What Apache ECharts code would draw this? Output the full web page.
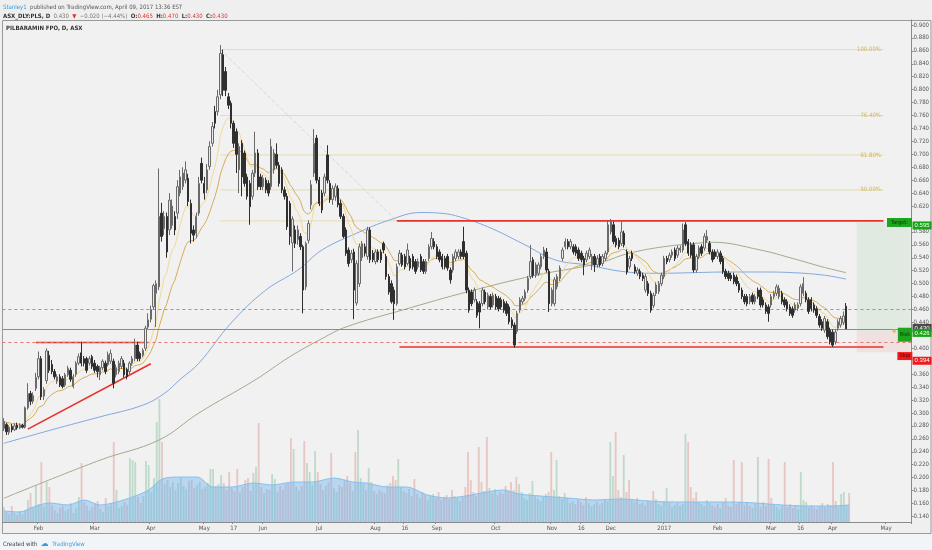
<!DOCTYPE html>
<html>
<head>
<meta charset="utf-8">
<script src="https://cdn.jsdelivr.net/npm/echarts@6.0.0/dist/echarts.min.js"></script>
<style>
  html, body { margin: 0; padding: 0; background: #efefef; }
  #chart { width: 932px; height: 550px; }
</style>
</head>
<body>
<div id="chart"></div>
<script>
// daily bars, [open, high, low, close]
var ohlc = [
  [0.276,0.292,0.272,0.287],[0.282,0.285,0.266,0.271],[0.270,0.281,0.266,0.278],[0.279,0.283,0.270,0.274],
  [0.274,0.284,0.272,0.280],[0.281,0.285,0.274,0.277],[0.277,0.284,0.275,0.281],[0.281,0.283,0.276,0.278],
  [0.278,0.310,0.276,0.308],[0.308,0.346,0.305,0.330],[0.330,0.334,0.312,0.318],[0.318,0.332,0.314,0.327],
  [0.338,0.362,0.334,0.355],[0.356,0.395,0.352,0.384],[0.384,0.388,0.320,0.325],[0.326,0.340,0.320,0.336],
  [0.350,0.400,0.345,0.396],[0.389,0.396,0.362,0.366],[0.375,0.382,0.360,0.364],[0.364,0.368,0.352,0.356],
  [0.349,0.360,0.345,0.356],[0.356,0.360,0.340,0.343],[0.353,0.357,0.338,0.341],[0.343,0.362,0.340,0.359],
  [0.359,0.373,0.356,0.369],[0.366,0.370,0.348,0.352],[0.341,0.360,0.338,0.356],[0.360,0.380,0.356,0.377],
  [0.377,0.392,0.374,0.387],[0.393,0.410,0.372,0.377],[0.384,0.388,0.372,0.377],[0.384,0.387,0.362,0.366],
  [0.377,0.388,0.373,0.384],[0.387,0.390,0.368,0.372],[0.377,0.382,0.362,0.366],[0.372,0.375,0.355,0.364],
  [0.359,0.373,0.351,0.370],[0.370,0.383,0.366,0.380],[0.377,0.381,0.360,0.364],[0.375,0.395,0.372,0.390],
  [0.380,0.398,0.376,0.392],[0.380,0.384,0.338,0.346],[0.359,0.375,0.355,0.370],[0.364,0.381,0.360,0.377],
  [0.372,0.388,0.368,0.384],[0.377,0.382,0.355,0.359],[0.367,0.370,0.352,0.356],[0.364,0.380,0.360,0.377],
  [0.377,0.388,0.373,0.384],[0.384,0.415,0.380,0.405],[0.405,0.410,0.380,0.384],[0.392,0.395,0.380,0.384],
  [0.389,0.400,0.386,0.397],[0.400,0.435,0.396,0.431],[0.433,0.454,0.430,0.444],[0.445,0.466,0.440,0.460],
  [0.464,0.500,0.460,0.497],[0.485,0.505,0.433,0.500],[0.495,0.678,0.490,0.604],[0.609,0.625,0.565,0.573],
  [0.585,0.612,0.575,0.604],[0.604,0.610,0.540,0.549],[0.583,0.640,0.575,0.629],[0.590,0.630,0.585,0.620],
  [0.604,0.612,0.575,0.583],[0.609,0.660,0.600,0.650],[0.640,0.676,0.635,0.665],[0.650,0.680,0.645,0.671],
  [0.660,0.689,0.655,0.676],[0.663,0.670,0.620,0.627],[0.624,0.630,0.562,0.578],[0.583,0.590,0.565,0.575],
  [0.578,0.610,0.570,0.604],[0.609,0.665,0.605,0.655],[0.686,0.695,0.655,0.660],[0.655,0.665,0.630,0.640],
  [0.645,0.685,0.640,0.676],[0.681,0.720,0.676,0.712],[0.717,0.750,0.712,0.743],[0.766,0.775,0.740,0.748],
  [0.766,0.800,0.760,0.789],[0.792,0.869,0.785,0.856],[0.854,0.862,0.790,0.799],[0.828,0.835,0.790,0.799],
  [0.789,0.795,0.770,0.776],[0.779,0.783,0.740,0.748],[0.748,0.752,0.710,0.717],[0.735,0.740,0.671,0.700],
  [0.676,0.717,0.640,0.712],[0.717,0.722,0.635,0.665],[0.702,0.706,0.650,0.655],[0.665,0.670,0.630,0.635],
  [0.655,0.660,0.591,0.619],[0.635,0.676,0.630,0.671],[0.671,0.735,0.665,0.702],[0.702,0.708,0.645,0.650],
  [0.665,0.670,0.645,0.650],[0.650,0.668,0.645,0.663],[0.660,0.664,0.640,0.645],[0.655,0.660,0.635,0.640],
  [0.650,0.724,0.645,0.712],[0.676,0.708,0.670,0.702],[0.700,0.717,0.678,0.683],[0.683,0.688,0.650,0.655],
  [0.676,0.680,0.640,0.645],[0.645,0.650,0.630,0.635],[0.635,0.640,0.583,0.588],[0.624,0.628,0.560,0.573],
  [0.563,0.604,0.519,0.600],[0.583,0.590,0.555,0.562],[0.568,0.590,0.560,0.583],[0.573,0.578,0.552,0.557],
  [0.557,0.560,0.454,0.490],[0.495,0.565,0.490,0.562],[0.567,0.598,0.562,0.593],[0.622,0.660,0.615,0.653],
  [0.671,0.739,0.665,0.717],[0.725,0.730,0.655,0.660],[0.660,0.665,0.620,0.624],[0.640,0.645,0.609,0.614],
  [0.640,0.670,0.635,0.665],[0.699,0.714,0.655,0.660],[0.655,0.660,0.625,0.630],[0.630,0.652,0.622,0.647],
  [0.635,0.655,0.628,0.650],[0.647,0.652,0.618,0.622],[0.624,0.630,0.600,0.604],[0.604,0.608,0.570,0.573],
  [0.583,0.587,0.543,0.547],[0.552,0.556,0.526,0.531],[0.537,0.552,0.532,0.547],[0.549,0.554,0.445,0.490],
  [0.470,0.536,0.466,0.531],[0.500,0.562,0.495,0.557],[0.540,0.566,0.535,0.562],[0.557,0.562,0.542,0.547],
  [0.542,0.588,0.537,0.583],[0.583,0.587,0.532,0.537],[0.547,0.552,0.533,0.537],[0.534,0.553,0.530,0.549],
  [0.549,0.553,0.533,0.537],[0.549,0.553,0.532,0.537],[0.562,0.565,0.547,0.552],[0.542,0.546,0.506,0.511],
  [0.511,0.515,0.483,0.487],[0.500,0.505,0.469,0.472],[0.490,0.495,0.444,0.469],[0.469,0.531,0.466,0.526],
  [0.531,0.552,0.528,0.547],[0.544,0.548,0.526,0.529],[0.542,0.546,0.522,0.526],[0.531,0.562,0.528,0.552],
  [0.539,0.543,0.520,0.524],[0.542,0.546,0.522,0.526],[0.534,0.538,0.515,0.519],[0.526,0.539,0.522,0.534],
  [0.542,0.546,0.518,0.521],[0.534,0.538,0.515,0.519],[0.519,0.538,0.515,0.534],[0.539,0.561,0.535,0.557],
  [0.557,0.580,0.553,0.570],[0.565,0.570,0.553,0.557],[0.557,0.561,0.538,0.542],[0.549,0.553,0.533,0.537],
  [0.542,0.546,0.522,0.526],[0.539,0.543,0.522,0.526],[0.542,0.546,0.520,0.524],[0.521,0.525,0.500,0.506],
  [0.521,0.546,0.517,0.542],[0.539,0.553,0.535,0.549],[0.542,0.553,0.538,0.549],[0.549,0.553,0.538,0.542],
  [0.565,0.588,0.538,0.542],[0.547,0.551,0.485,0.490],[0.490,0.494,0.455,0.459],[0.487,0.491,0.465,0.469],
  [0.475,0.494,0.471,0.490],[0.472,0.476,0.447,0.451],[0.469,0.473,0.431,0.456],[0.469,0.494,0.465,0.490],
  [0.487,0.491,0.468,0.472],[0.464,0.486,0.460,0.482],[0.480,0.484,0.460,0.464],[0.467,0.486,0.463,0.482],
  [0.480,0.484,0.460,0.464],[0.477,0.481,0.457,0.461],[0.475,0.479,0.460,0.464],[0.472,0.476,0.455,0.459],
  [0.469,0.473,0.450,0.454],[0.464,0.468,0.437,0.441],[0.444,0.448,0.431,0.435],[0.436,0.440,0.401,0.405],
  [0.426,0.458,0.422,0.454],[0.459,0.479,0.455,0.475],[0.472,0.481,0.468,0.477],[0.477,0.491,0.473,0.487],
  [0.490,0.512,0.486,0.508],[0.511,0.560,0.507,0.534],[0.537,0.541,0.509,0.513],[0.513,0.533,0.509,0.529],
  [0.516,0.533,0.512,0.529],[0.526,0.546,0.522,0.542],[0.542,0.557,0.538,0.552],[0.549,0.555,0.517,0.521],
  [0.519,0.523,0.456,0.469],[0.469,0.494,0.465,0.490],[0.469,0.510,0.465,0.506],[0.495,0.515,0.491,0.511],
  [0.508,0.528,0.504,0.524],[0.539,0.556,0.535,0.552],[0.557,0.570,0.553,0.565],[0.565,0.569,0.553,0.557],
  [0.557,0.569,0.553,0.565],[0.557,0.561,0.545,0.549],[0.557,0.561,0.543,0.547],[0.552,0.556,0.535,0.539],
  [0.547,0.551,0.533,0.537],[0.539,0.543,0.513,0.529],[0.537,0.551,0.533,0.547],[0.542,0.556,0.538,0.552],
  [0.529,0.546,0.521,0.542],[0.542,0.546,0.518,0.529],[0.529,0.544,0.525,0.539],[0.542,0.546,0.526,0.529],
  [0.531,0.546,0.527,0.542],[0.539,0.551,0.535,0.547],[0.549,0.598,0.545,0.591],[0.580,0.600,0.576,0.596],
  [0.591,0.596,0.561,0.565],[0.570,0.574,0.556,0.560],[0.567,0.571,0.553,0.557],[0.562,0.596,0.558,0.580],
  [0.578,0.582,0.556,0.560],[0.549,0.553,0.514,0.518],[0.526,0.543,0.522,0.539],[0.547,0.551,0.535,0.539],
  [0.526,0.530,0.515,0.519],[0.516,0.525,0.512,0.521],[0.519,0.523,0.507,0.511],[0.513,0.517,0.504,0.508],
  [0.490,0.515,0.486,0.511],[0.500,0.504,0.481,0.485],[0.485,0.489,0.455,0.459],[0.466,0.486,0.462,0.482],
  [0.485,0.502,0.481,0.498],[0.488,0.504,0.484,0.500],[0.500,0.517,0.496,0.513],[0.511,0.543,0.507,0.539],
  [0.539,0.543,0.530,0.534],[0.537,0.548,0.533,0.544],[0.544,0.553,0.540,0.549],[0.552,0.556,0.535,0.539],
  [0.544,0.559,0.540,0.555],[0.552,0.559,0.548,0.555],[0.552,0.593,0.548,0.583],[0.591,0.595,0.558,0.562],
  [0.565,0.569,0.543,0.547],[0.560,0.564,0.540,0.544],[0.560,0.564,0.517,0.521],[0.521,0.546,0.517,0.542],
  [0.542,0.559,0.538,0.555],[0.557,0.561,0.543,0.547],[0.555,0.578,0.551,0.573],[0.567,0.583,0.563,0.573],
  [0.562,0.566,0.545,0.549],[0.549,0.553,0.533,0.537],[0.549,0.553,0.538,0.542],[0.542,0.553,0.538,0.549],
  [0.547,0.551,0.530,0.534],[0.539,0.543,0.515,0.519],[0.519,0.523,0.507,0.511],[0.516,0.520,0.504,0.508],
  [0.513,0.517,0.504,0.508],[0.513,0.517,0.499,0.503],[0.510,0.514,0.496,0.500],[0.500,0.504,0.486,0.490],
  [0.490,0.494,0.476,0.480],[0.480,0.484,0.468,0.472],[0.480,0.484,0.465,0.469],[0.472,0.484,0.468,0.480],
  [0.482,0.486,0.468,0.472],[0.472,0.484,0.468,0.480],[0.490,0.494,0.476,0.480],[0.490,0.494,0.463,0.467],
  [0.475,0.479,0.463,0.467],[0.467,0.471,0.453,0.457],[0.464,0.468,0.441,0.454],[0.467,0.484,0.463,0.480],
  [0.480,0.489,0.476,0.485],[0.485,0.499,0.481,0.495],[0.480,0.498,0.476,0.493],[0.485,0.489,0.468,0.472],
  [0.475,0.479,0.463,0.467],[0.472,0.476,0.457,0.461],[0.464,0.468,0.450,0.454],[0.461,0.465,0.447,0.451],
  [0.459,0.471,0.455,0.467],[0.462,0.471,0.458,0.467],[0.469,0.499,0.465,0.495],[0.485,0.510,0.481,0.500],
  [0.485,0.489,0.471,0.475],[0.475,0.479,0.453,0.457],[0.475,0.479,0.457,0.461],[0.467,0.471,0.455,0.459],
  [0.461,0.465,0.447,0.451],[0.449,0.453,0.432,0.436],[0.441,0.445,0.427,0.431],[0.428,0.450,0.424,0.446],
  [0.441,0.445,0.414,0.418],[0.428,0.432,0.406,0.410],[0.425,0.429,0.402,0.405],[0.410,0.429,0.406,0.425],
  [0.431,0.445,0.427,0.441],[0.436,0.450,0.432,0.446],[0.440,0.457,0.436,0.450],[0.465,0.470,0.430,0.430]
];

// volume per bar, millions
var volumes = [
  1.5,1.0,0.8,1.6,0.9,0.7,1.1,0.8,1.2,2.2, 2.9,1.4,3.7,1.8,6.0,1.5,4.0,3.5,1.7,1.2,
  0.9,1.4,1.6,1.1,1.3,1.9,0.9,1.4,2.5,5.9, 2.0,1.6,1.2,1.5,1.8,2.1,1.3,1.0,2.4,1.6,
  1.8,8.0,3.2,1.4,1.6,2.0,1.7,6.4,6.2,6.0, 2.5,1.9,2.6,6.1,5.7,3.0,4.4,10.0,12.3,8.0,
  3.8,4.2,3.5,4.0,3.2,3.9,4.5,3.6,3.3,4.1, 4.2,3.4,3.7,4.0,3.3,3.5,3.9,5.3,5.3,3.6,
  3.8,4.7,3.9,3.2,5.0,3.4,3.1,5.3,3.0,3.5, 4.2,4.4,3.1,4.9,5.5,9.9,3.5,2.9,3.3,3.2,
  4.8,4.3,3.0,3.6,3.2,3.8,3.9,8.4,7.3,3.5, 3.1,3.6,8.1,5.9,5.0,3.7,7.1,5.0,3.8,3.2,
  3.6,4.0,6.9,3.4,3.0,3.7,3.5,4.2,4.6,3.9, 3.1,7.0,9.2,4.4,3.8,3.2,5.4,4.0,3.1,2.8,
  3.2,3.0,2.9,3.7,3.9,4.6,4.2,6.3,3.5,3.1, 2.9,3.3,2.6,4.3,2.8,2.4,3.0,2.7,2.2,2.6,
  2.8,2.4,3.0,2.2,2.5,2.7,2.3,3.2,2.6,2.4, 2.1,2.5,3.5,7.0,4.2,3.0,2.6,7.5,4.0,3.1,
  8.5,3.4,2.9,3.3,2.7,3.0,2.8,3.6,3.1,4.0, 3.2,4.5,3.8,3.0,2.4,2.2,2.9,4.1,2.6,2.3,
  2.1,2.5,2.8,3.0,7.0,3.2,6.2,2.6,2.3,2.9, 2.4,1.9,2.1,1.8,2.2,2.0,1.7,2.5,1.9,1.6,
  1.8,2.0,1.7,1.9,2.3,2.1,8.0,4.6,9.0,3.2, 2.5,6.7,3.0,4.2,2.3,2.0,2.4,1.8,1.9,1.7,
  2.2,2.0,3.1,2.3,1.8,1.6,2.0,3.4,1.9,1.5, 1.7,1.9,1.6,1.8,8.8,8.0,3.5,2.4,3.0,2.0,
  1.8,1.6,2.2,1.9,1.7,1.5,1.8,1.4,1.9,2.4, 1.6,1.5,6.2,1.8,2.0,6.0,1.7,1.9,1.6,1.4,
  1.8,6.5,1.5,2.0,1.6,6.3,2.4,1.7,1.5,1.3, 1.6,6.0,1.5,1.8,1.4,1.7,1.3,5.0,2.2,2.0,
  1.5,1.7,1.4,1.3,1.6,1.9,1.5,1.8,1.7,6.0, 2.1,1.5,2.8,3.0,1.7,2.9
];

// long moving averages, [bar index, price]
var ma100 = [[0,0.253],[18,0.274],[36,0.294],[52,0.312],[60,0.330],[66,0.352],[73,0.377],[85,0.439],
  [98,0.490],[110,0.521],[119,0.552],[132,0.578],[144,0.598],[156,0.610],[163,0.609],[169,0.605],
  [181,0.588],[194,0.562],[206,0.537],[218,0.529],[233,0.518],[245,0.516],[258,0.517],[270,0.518],
  [283,0.518],[295,0.517],[307,0.513],[315,0.507]];
var ma200 = [[0,0.168],[36,0.227],[58,0.258],[73,0.300],[94,0.351],[107,0.387],[119,0.415],[128,0.433],
  [149,0.459],[174,0.488],[199,0.513],[222,0.531],[233,0.546],[245,0.556],[258,0.562],[265,0.564],
  [283,0.552],[295,0.539],[307,0.525],[315,0.517]];
// volume average (blue area), [bar index, millions]
var volAvg = [[0,1.1],[6,1.0],[11,1.5],[17,1.9],[24,1.7],[30,2.2],[36,1.7],[42,2.0],[48,2.5],[54,3.2],
  [59,4.3],[66,4.5],[72,4.5],[78,3.5],[85,3.5],[93,3.9],[100,3.7],[108,4.0],[115,4.0],[123,4.4],
  [130,4.0],[135,3.9],[143,3.5],[150,3.5],[158,2.7],[165,2.4],[172,2.6],[180,3.0],[186,3.2],[192,2.8],
  [200,2.6],[210,2.4],[220,2.2],[230,2.3],[240,2.1],[250,2.0],[260,2.0],[270,2.0],[280,1.9],[290,1.7],
  [300,1.6],[308,1.6],[315,1.7]];

// fibonacci levels drawn from the May high
var fibLevels = [0.862, 0.760, 0.699, 0.645, 0.597];
var fibNames = ['100.00%', '76.40%', '61.80%', '50.00%', ''];

var holidays = ['2016-01-26','2016-03-25','2016-03-28','2016-04-25','2016-06-13',
  '2016-12-26','2016-12-27','2017-01-02','2017-01-26'];
var dateTicks = {
  '2016-02-01':'Feb','2016-03-01':'Mar','2016-04-01':'Apr','2016-05-02':'May','2016-05-17':'17',
  '2016-06-01':'Jun','2016-07-01':'Jul','2016-08-01':'Aug','2016-08-16':'16','2016-09-01':'Sep',
  '2016-10-03':'Oct','2016-11-01':'Nov','2016-11-16':'16','2016-12-01':'Dec','2017-01-03':'2017',
  '2017-02-01':'Feb','2017-03-01':'Mar','2017-03-16':'16','2017-04-03':'Apr','2017-05-01':'May'
};
var priceTicks = [0.14,0.16,0.18,0.20,0.22,0.24,0.26,0.28,0.30,0.32,0.34,0.36,0.40,0.44,0.46,0.48,
  0.50,0.52,0.54,0.56,0.58,0.62,0.64,0.66,0.68,0.70,0.72,0.74,0.76,0.78,0.80,0.82,0.84,0.86,0.88,0.90];

var totalBars = 340;
var dates = [];
(function () {
  var d = new Date(Date.UTC(2016, 0, 12));
  while (dates.length < totalBars) {
    var wd = d.getUTCDay(), s = d.toISOString().slice(0, 10);
    if (wd !== 0 && wd !== 6 && holidays.indexOf(s) < 0) dates.push(s);
    d.setUTCDate(d.getUTCDate() + 1);
  }
})();

function ema(n) {
  var k = 2 / (n + 1), out = [], prev;
  ohlc.forEach(function (b, i) {
    prev = i === 0 ? b[3] : b[3] * k + prev * (1 - k);
    out.push(+prev.toFixed(4));
  });
  return out;
}

var FONT = 'Liberation Sans';
var NARROW = "'Liberation Sans Narrow', 'DejaVu Sans Condensed', 'Liberation Sans'";
var RED = '#e8322b';

function segment(name, a, b, color, width, type, z) {
  return {
    name: name, type: 'line', data: [a, b], symbol: 'none', silent: true, z: z || 4,
    lineStyle: { color: color, width: width, type: type || 'solid' }, animation: false
  };
}

function priceTag(v, bg, fg, dy) {
  return {
    yAxis: v, lineStyle: { color: 'rgba(0,0,0,0)' },
    label: { show: true, position: 'end', distance: 1, formatter: v.toFixed(3), color: fg,
      backgroundColor: bg, padding: [1, 2], fontSize: 6, fontFamily: FONT, offset: [0, dy] }
  };
}

function boxLabel(coord, text, size, bg, fg) {
  return {
    coord: coord, symbol: 'rect', symbolSize: size, itemStyle: { color: bg },
    label: { show: true, position: 'inside', formatter: text, color: fg, fontSize: 5.5, fontFamily: NARROW }
  };
}

var chart = echarts.init(document.getElementById('chart'), null, { renderer: 'canvas' });

var series = [];

series.push({
  name: 'Volume', type: 'bar', xAxisIndex: 1, yAxisIndex: 1, barWidth: '70%', z: 1, silent: true,
  data: volumes.map(function (v, i) {
    var up = ohlc[i][3] >= ohlc[i][0];
    return { value: v, itemStyle: { color: up ? 'rgba(120,185,145,0.40)' : 'rgba(214,126,116,0.36)' } };
  })
});
series.push({
  name: 'Vol MA', type: 'line', xAxisIndex: 1, yAxisIndex: 1, data: volAvg, smooth: 0.3, symbol: 'none',
  z: 2, silent: true, lineStyle: { color: '#86c0ec', width: 1 },
  areaStyle: { color: 'rgba(110,180,238,0.62)' }
});

series.push({
  name: 'MA200', type: 'line', data: ma200, smooth: 0.4, symbol: 'none', z: 3, silent: true,
  lineStyle: { color: '#a3aa8c', width: 1 }
});
series.push({
  name: 'MA100', type: 'line', data: ma100, smooth: 0.4, symbol: 'none', z: 3, silent: true,
  lineStyle: { color: '#82a9de', width: 1 }
});
series.push({
  name: 'EMA20', type: 'line', data: ema(20), symbol: 'none', z: 3, silent: true,
  lineStyle: { color: '#d9ad52', width: 1 }
});
series.push({
  name: 'EMA10', type: 'line', data: ema(10), symbol: 'none', z: 3, silent: true,
  lineStyle: { color: '#f1da93', width: 1 }
});

// fibonacci retracement
fibLevels.forEach(function (lv, k) {
  var s = segment('fib' + k, [81, lv], [329, lv], '#e6dcae', 1, 'solid', 2);
  if (fibNames[k]) {
    s.symbol = 'circle';
    s.symbolSize = 1;
    s.itemStyle = { color: 'rgba(0,0,0,0)' };
    s.label = { show: false };
    s.data[1] = { value: [329, lv], label: { show: true, position: 'left', distance: 2,
      formatter: fibNames[k], color: '#d0b560', fontSize: 6, fontFamily: NARROW } };
  }
  series.push(s);
});
series.push(segment('fibDiag', [81, 0.862], [147, 0.597], '#d8d8d8', 1, 'dashed', 2));

// hand drawn trend lines
series.push(segment('rise', [9, 0.275], [55, 0.376], RED, 1.6));
series.push(segment('flat', [12, 0.409], [54, 0.409], RED, 1.6));
series.push(segment('resist', [147, 0.597], [329, 0.597], RED, 1.6));
series.push(segment('support', [148, 0.402], [329, 0.402], RED, 1.6));

series.push({
  name: 'PLS', type: 'candlestick', z: 5, silent: true, barWidth: '72%',
  data: ohlc.map(function (b) { return [b[0], b[3], b[2], b[1]]; }),
  itemStyle: { color: '#ebebeb', color0: '#2f2f2f', borderColor: '#6a6a6a', borderColor0: '#2f2f2f', borderWidth: 1 },
  markLine: {
    silent: true, symbol: 'none', animation: false,
    data: [
      { yAxis: 0.456, lineStyle: { color: '#e07a72', type: [3, 3], width: 1 }, label: { show: false } },
      { yAxis: 0.409, lineStyle: { color: '#e07a72', type: [3, 3], width: 1 }, label: { show: false } },
      { yAxis: 0.430, lineStyle: { color: '#8c8c8c', type: 'solid', width: 1 },
        label: { show: true, position: 'end', distance: 1, formatter: '0.430', color: '#fff',
          backgroundColor: '#4a4a4a', padding: [1, 2], fontSize: 6, fontFamily: FONT, offset: [0, -1] } },
      priceTag(0.595, '#18a418', '#fff', 0),
      priceTag(0.426, '#18a418', '#fff', 4),
      priceTag(0.394, '#ee1c1c', '#fff', 6)
    ]
  },
  markArea: {
    silent: true,
    data: [
      [{ xAxis: 319, yAxis: 0.426, itemStyle: { color: 'rgba(90,180,90,0.10)' } }, { xAxis: 339, yAxis: 0.595 }],
      [{ xAxis: 319, yAxis: 0.394, itemStyle: { color: 'rgba(240,80,80,0.10)' } }, { xAxis: 339, yAxis: 0.426 }]
    ]
  },
  markPoint: {
    silent: true, animation: false,
    data: [
      boxLabel([335, 0.5946], 'Target:', [25, 9], '#1ea51e', '#063b06'),
      boxLabel([337, 0.421], 'Risk', [14, 14], '#1ea51e', '#063b06'),
      boxLabel([337, 0.388], 'Stop', [15, 8], '#ee1c1c', '#5a0000'),
      { coord: [333, 0.4267], symbol: 'rect', symbolSize: [3, 3], itemStyle: { color: '#e3b46a' }, label: { show: false } }
    ]
  }
});

chart.setOption({
  animation: false,
  backgroundColor: '#efefef',
  textStyle: { fontFamily: FONT },
  grid: [
    { left: 2.4, right: 17.1, top: 20, bottom: 28, show: true, backgroundColor: '#f1f1f1', borderWidth: 0 },
    { left: 2.4, right: 17.1, top: 372, bottom: 28 }
  ],
  xAxis: [
    {
      type: 'category', data: dates, boundaryGap: true,
      axisLine: { lineStyle: { color: '#8a8a8a' } },
      axisTick: { show: true, length: 2, lineStyle: { color: '#8a8a8a' },
        interval: function (i, v) { return !!dateTicks[v]; } },
      axisLabel: { fontSize: 6, color: '#555', margin: 3, fontFamily: NARROW,
        interval: function (i, v) { return !!dateTicks[v]; },
        formatter: function (v) { return dateTicks[v] || ''; } },
      splitLine: { show: false }
    },
    { type: 'category', data: dates, gridIndex: 1, boundaryGap: true, show: false }
  ],
  yAxis: [
    {
      type: 'value', position: 'right', min: 0.13136, max: 0.90773, scale: true,
      axisLine: { show: true, lineStyle: { color: '#8a8a8a' } },
      axisTick: { show: true, length: 2, customValues: priceTicks, lineStyle: { color: '#8a8a8a' } },
      axisLabel: { fontSize: 6, color: '#555', margin: 2, customValues: priceTicks, fontFamily: NARROW,
        formatter: function (v) { return v.toFixed(3); } },
      splitLine: { show: false }
    },
    { type: 'value', gridIndex: 1, min: 0, max: 15, show: false, splitLine: { show: false } }
  ],
  graphic: [
    { type: 'rect', shape: { x: 0, y: 534, width: 932, height: 16 }, style: { fill: '#f2f5f8' }, z: -1 },
    { type: 'rect', shape: { x: 2.5, y: 20.5, width: 928.5, height: 513 }, style: { fill: null, stroke: '#9a9a9a', lineWidth: 1 }, silent: true },
    {
      type: 'text', left: 3, top: 1,
      style: {
        text: '{a|Stanley1} {b|published on TradingView.com, April 09, 2017 13:36 EST}',
        rich: {
          a: { fill: '#3a9ad9', fontSize: 6, fontFamily: NARROW },
          b: { fill: '#555', fontSize: 6, fontFamily: NARROW }
        }
      }
    },
    {
      type: 'text', left: 3, top: 10,
      style: {
        text: '{k|ASX_DLY:PLS, D} {g|0.430} {r|▼} {g|\u22120.020 (\u22124.44%)} {k|O:}{r|0.465} {k|H:}{r|0.470} {k|L:}{r|0.430} {k|C:}{r|0.430}',
        rich: {
          k: { fill: '#333', fontSize: 6, fontWeight: 'bold', fontFamily: NARROW },
          g: { fill: '#777', fontSize: 6, fontFamily: NARROW },
          r: { fill: '#e0342d', fontSize: 6, fontFamily: NARROW }
        }
      }
    },
    {
      type: 'text', left: 6, top: 25,
      style: { text: 'PILBARAMIN FPO, D, ASX', fill: '#333', fontSize: 6, fontWeight: 'bold', fontFamily: NARROW }
    },
    {
      type: 'text', left: 3, top: 538,
      style: {
        text: '{k|Created with} {i|\u2601} {t|TradingView}',
        rich: {
          k: { fill: '#444', fontSize: 6, fontFamily: NARROW },
          i: { fill: '#3a9ad9', fontSize: 8, fontFamily: 'DejaVu Sans' },
          t: { fill: '#3a9ad9', fontSize: 6, fontFamily: NARROW }
        }
      }
    }
  ],
  series: series
});
</script>
</body>
</html>
